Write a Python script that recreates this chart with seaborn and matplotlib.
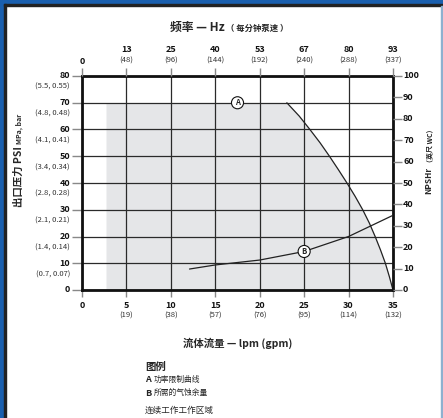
import numpy as np
import pandas as pd
import seaborn as sns
import matplotlib.pyplot as plt
from matplotlib.patches import Rectangle

# axis ticks and their secondary unit labels
gpm_ticks = [0, 5, 10, 15, 20, 25, 30, 35]
lpm_labels = ['', '19', '38', '57', '76', '95', '114', '132']
hz_labels = ['0', '13', '25', '40', '53', '67', '80', '93']
rpm_labels = ['', '48', '96', '144', '192', '240', '288', '337']
psi_ticks = [0, 10, 20, 30, 40, 50, 60, 70, 80]
mpa_labels = ['', '0.7, 0.07', '1.4, 0.14', '2.1, 0.21', '2.8, 0.28',
              '3.4, 0.34', '4.1, 0.41', '4.8, 0.48', '5.5, 0.55']
npsh_ticks = [0, 10, 20, 30, 40, 50, 60, 70, 80, 90, 100]

# curve A: power limit (gpm, psi)
a_gpm = [2.7, 23.05, 24.45, 25.65, 26.8, 27.85, 28.85, 29.82, 30.74,
         31.59, 32.34, 32.99, 33.59, 34.14, 34.59, 35.0]
a_psi = [70, 70, 65, 60, 55, 50, 45, 40, 35, 30, 25, 20, 15, 10, 5, 0]

# curve B: NPSHr (gpm, ft wc)
b_gpm = [12.1, 15, 20, 25, 30, 35]
b_npsh = [9.8, 11.7, 14, 18, 25, 34.9]

W, H = 443, 418
PX = 0.72  # points per pixel at 100 dpi

sns.set_style('white')
plt.rcParams['font.family'] = ['Liberation Sans Narrow', 'Noto Sans CJK SC', 'DejaVu Sans']

fig = plt.figure(figsize=(W / 100, H / 100), dpi=100)
ax = fig.add_axes([82 / W, 128 / H, 311 / W, 214 / H])
ax_r = ax.twinx()
ax_t = ax.twiny()

# operating region + curves
ax.fill_between(a_gpm, 0, a_psi, color='#e5e6e8', lw=0, zorder=0)
sns.lineplot(x=a_gpm[1:], y=a_psi[1:], ax=ax, color='#222222', lw=0.9, sort=False)
sns.lineplot(x=b_gpm, y=b_npsh, ax=ax_r, color='#222222', lw=0.9, sort=False)

ax.set_xlim(0, 35)
ax.set_ylim(0, 80)
ax_r.set_ylim(0, 100)
ax_t.set_xlim(0, 35)

ax.set_xticks(gpm_ticks)
ax.set_yticks(psi_ticks)
ax_r.set_yticks(npsh_ticks)
ax_t.set_xticks(gpm_ticks)
ax.grid(True, color='#2a2a2a', lw=0.9)

for a in (ax, ax_r, ax_t):
    a.set_xlabel('')
    a.set_ylabel('')
for s in ax.spines.values():
    s.set_linewidth(2)
    s.set_color('#111111')
for a in (ax_r, ax_t):
    for s in a.spines.values():
        s.set_visible(False)

ax.tick_params(axis='x', bottom=True, top=False, length=7 * PX, width=1, color='#888888', labelbottom=False)
ax.tick_params(axis='y', left=True, right=False, length=10 * PX, width=1, color='#888888', labelleft=False)
ax_r.tick_params(axis='y', right=True, left=False, length=9 * PX, width=1, color='#888888', labelright=False, labelleft=False)
ax_t.tick_params(axis='x', top=True, bottom=False, length=8 * PX, width=1, color='#888888', labeltop=False, labelbottom=False)

num_kw = dict(textcoords='offset points', fontsize=6.5, fontweight='bold', color='#111111')
par_kw = dict(textcoords='offset points', fontsize=5.5, color='#333333')

# bottom: gpm (lpm)
for x, lab in zip(gpm_ticks, lpm_labels):
    ax.annotate(str(x), xy=(x, 0), xycoords=('data', 'axes fraction'), xytext=(0, -15 * PX),
                ha='center', va='center', **num_kw)
    if lab:
        ax.annotate(f'({lab})', xy=(x, 0), xycoords=('data', 'axes fraction'), xytext=(0, -26 * PX),
                    ha='center', va='center', **par_kw)

# top: Hz (rpm)
for x, hz, rpm in zip(gpm_ticks, hz_labels, rpm_labels):
    if rpm:
        ax.annotate(hz, xy=(x, 1), xycoords=('data', 'axes fraction'), xytext=(0, 26 * PX),
                    ha='center', va='center', **num_kw)
        ax.annotate(f'({rpm})', xy=(x, 1), xycoords=('data', 'axes fraction'), xytext=(0, 15 * PX),
                    ha='center', va='center', **par_kw)
    else:
        ax.annotate(hz, xy=(x, 1), xycoords=('data', 'axes fraction'), xytext=(0, 15 * PX),
                    ha='center', va='center', **num_kw)

# left: psi (MPa, bar)
for y, lab in zip(psi_ticks, mpa_labels):
    ax.annotate(str(y), xy=(0, y), xycoords=('axes fraction', 'data'), xytext=(-12 * PX, 0),
                ha='right', va='center', **num_kw)
    if lab:
        ax.annotate(f'({lab})', xy=(0, y), xycoords=('axes fraction', 'data'), xytext=(-12 * PX, -11 * PX),
                    ha='right', va='center', **par_kw)

# right: NPSHr
for y in npsh_ticks:
    ax_r.annotate(str(y), xy=(1, y), xycoords=('axes fraction', 'data'), xytext=(10 * PX, 0),
                  ha='left', va='center', **num_kw)

# curve markers
circ = dict(boxstyle='circle,pad=0.2', fc='white', ec='#111111', lw=0.8)
ax.text(17.5, 70, 'A', ha='center', va='center', fontsize=5.5, fontweight='bold', bbox=circ, zorder=5)
ax_r.text(25, 18, 'B', ha='center', va='center', fontsize=5.5, fontweight='bold', bbox=circ, zorder=5)

# axis titles
fig.text(225 / W, 1 - 27 / H, '频率 — Hz', ha='right', va='center', fontsize=8.5, fontweight='bold')
fig.text(226 / W, 1 - 28 / H, '（ 每分钟泵速 ）', ha='left', va='center', fontsize=6, fontweight='bold')
fig.text(238 / W, 1 - 343 / H, '流体流量 — lpm (gpm)', ha='center', va='center', fontsize=7.5, fontweight='bold')

ylab = fig.text(19 / W, 1 - 207 / H, '出口压力 PSI', rotation=90, ha='center', va='bottom',
                fontsize=7.5, fontweight='bold')
ax.annotate('MPa, bar', xy=(0.5, 1), xycoords=ylab, xytext=(0.5, 2 * PX), textcoords='offset points',
            rotation=90, ha='center', va='bottom', fontsize=5, fontweight='bold', annotation_clip=False)
rlab = fig.text(429 / W, 1 - 194 / H, 'NPSHr', rotation=90, ha='center', va='bottom',
                fontsize=6, fontweight='bold')
ax.annotate('（英尺 WC）', xy=(0.5, 1), xycoords=rlab, xytext=(0.5, 1 * PX), textcoords='offset points',
            rotation=90, ha='center', va='bottom', fontsize=5, fontweight='bold', annotation_clip=False)

# legend block
fig.text(145 / W, 1 - 367 / H, '图例', ha='left', va='center', fontsize=7.5, fontweight='bold')
fig.text(145 / W, 1 - 380 / H, 'A', ha='left', va='center', fontsize=6.5, fontweight='bold')
fig.text(154 / W, 1 - 380 / H, '功率限制曲线', ha='left', va='center', fontsize=5.6)
fig.text(145 / W, 1 - 393 / H, 'B', ha='left', va='center', fontsize=6.5, fontweight='bold')
fig.text(154 / W, 1 - 393 / H, '所需的气蚀余量', ha='left', va='center', fontsize=5.6)
fig.text(145 / W, 1 - 410 / H, '连续工作工作区域', ha='left', va='center', fontsize=6.2, style='italic')

# page border
blue = '#1a5fae'
fig.add_artist(Rectangle((0, 0), 4 / W, 1, transform=fig.transFigure, color=blue, zorder=10))
fig.add_artist(Rectangle((0, 1 - 4 / H), 1, 4 / H, transform=fig.transFigure, color=blue, zorder=10))
fig.add_artist(Rectangle((4 / W, 0), 2 / W, 1 - 4 / H, transform=fig.transFigure, color='#222222', zorder=10))
fig.add_artist(Rectangle((4 / W, 1 - 6 / H), 1, 2 / H, transform=fig.transFigure, color='#222222', zorder=10))
fig.add_artist(Rectangle((441 / W, 0), 2 / W, 1 - 6 / H, transform=fig.transFigure, color='#8eb0cf', zorder=10))

fig.savefig('out.png', dpi=100)
